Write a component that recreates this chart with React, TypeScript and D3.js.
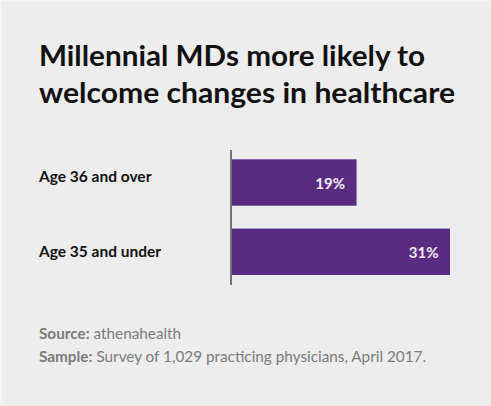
import React, { useEffect, useRef } from "react";
import * as d3 from "d3";

const titleLines = ["Millennial MDs more likely to", "welcome changes in healthcare"];
const categories = ["Age 36 and over", "Age 35 and under"];
const values = [19, 31];
const valueLabels = ["19%", "31%"];
const footerBold = ["Source:", "Sample:"];
const footerText = ["athenahealth", "Survey of 1,029 practicing physicians, April 2017."];

const W = 491;
const H = 406;
const FONT = "Lato, 'Open Sans', sans-serif";
const PURPLE = "#592c82";

export default function App() {
  const ref = useRef<SVGSVGElement>(null);

  useEffect(() => {
    const svg = d3.select(ref.current);
    svg.selectAll("*").remove();

    svg.append("rect").attr("width", W).attr("height", H).attr("fill", "#ededed");
    svg.append("rect").attr("x", 0).attr("y", 0).attr("width", 1.5).attr("height", H).attr("fill", "#f6f6f6");
    svg.append("rect").attr("x", 0).attr("y", 0).attr("width", W).attr("height", 1.5).attr("fill", "#f6f6f6");

    // Title
    const titleWidths = [386, 416];
    svg
      .selectAll("text.title")
      .data(titleLines)
      .join("text")
      .attr("class", "title")
      .attr("x", 39)
      .attr("y", (_, i) => 65.5 + i * 37)
      .attr("font-family", FONT)
      .attr("font-weight", 700)
      .attr("font-size", 29)
      .attr("fill", "#111")
      .attr("textLength", (_, i) => titleWidths[i])
      .attr("lengthAdjust", "spacingAndGlyphs")
      .text((d) => d);

    // Scales
    const x = d3.scaleLinear().domain([3, 31]).range([232, 450]);
    const y = d3.scaleBand().domain(categories).range([159.3, 275]).paddingInner(0.33);
    const labelY = d3.scalePoint().domain(categories).range([181.5, 256.7]);

    // Axis line
    svg
      .append("line")
      .attr("x1", 231)
      .attr("x2", 231)
      .attr("y1", 150)
      .attr("y2", 285)
      .attr("stroke", "#555")
      .attr("stroke-width", 1.6);

    const data = categories.map((c, i) => ({ c, v: values[i], l: valueLabels[i] }));

    svg
      .selectAll("rect.bar")
      .data(data)
      .join("rect")
      .attr("class", "bar")
      .attr("x", x(3))
      .attr("y", (d) => y(d.c)!)
      .attr("width", (d) => x(d.v) - x(3))
      .attr("height", y.bandwidth())
      .attr("fill", PURPLE);

    svg
      .selectAll("text.val")
      .data(data)
      .join("text")
      .attr("class", "val")
      .attr("x", (d) => x(d.v) - 11.5)
      .attr("y", (d) => y(d.c)! + y.bandwidth() / 2 + 6.5)
      .attr("text-anchor", "end")
      .attr("font-family", FONT)
      .attr("font-weight", 700)
      .attr("font-size", 15)
      .attr("fill", "#f4ecf7")
      .text((d) => d.l);

    svg
      .selectAll("text.cat")
      .data(data)
      .join("text")
      .attr("class", "cat")
      .attr("x", 39)
      .attr("y", (d) => labelY(d.c)!)
      .attr("font-family", FONT)
      .attr("font-weight", 700)
      .attr("font-size", 15.5)
      .attr("fill", "#111")
      .text((d) => d.c);

    // Footer
    const ft = svg
      .selectAll("text.foot")
      .data(footerBold)
      .join("text")
      .attr("class", "foot")
      .attr("x", 39)
      .attr("y", (_, i) => 339 + i * 22.5)
      .attr("font-family", FONT)
      .attr("font-size", 15.3)
      .attr("fill", "#7b7b7b");
    ft.append("tspan").attr("font-weight", 700).text((d) => d);
    ft.append("tspan").attr("font-weight", 400).text((_, i) => " " + footerText[i]);
  }, []);

  return (
    <svg
      ref={ref}
      width={W}
      height={H}
      style={{ position: "absolute", left: 0, top: 0, display: "block" }}
    />
  );
}
